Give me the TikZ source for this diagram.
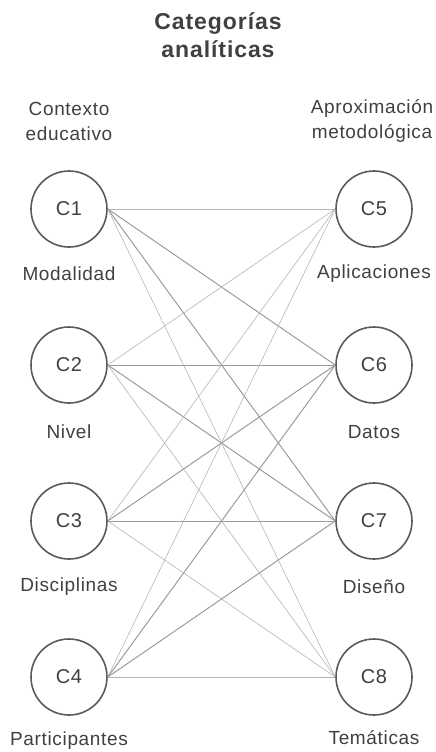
\documentclass[tikz,border=0pt]{standalone}
\usepackage{fontspec}
\setmainfont{Liberation Sans}
\newfontfamily\spaced[LetterSpace=3.5]{Liberation Sans}
\newfontfamily\spacedtitle[LetterSpace=4]{Liberation Sans}
\definecolor{circ}{HTML}{5A5A5A}
\definecolor{txt}{HTML}{404040}
\definecolor{lnk}{HTML}{B4B4B4}
\definecolor{lnkd}{HTML}{9C9C9C}
\begin{document}
\begin{tikzpicture}[x=1pt,y=-1pt,
  cat/.style={circle, draw=circ, line width=1.6pt, minimum size=76pt, inner sep=0pt, fill=white, text=txt, font=\spaced\fontsize{20}{24}\selectfont},
  lbl/.style={text=txt, font=\spaced\fontsize{19}{25}\selectfont, align=center, inner sep=0pt},
  ttl/.style={text=txt, font=\spacedtitle\fontsize{23}{28}\selectfont\bfseries, align=center, inner sep=0pt},
  thinlink/.style={draw=lnk, line width=0.6pt},
  thicklink/.style={draw=lnkd, line width=1pt}]
\useasboundingbox (0,0) rectangle (436,752);

\node[ttl] (title) at (218,35) {Categorías\\analíticas};
\node[lbl] (hl) at (69,121) {Contexto\\educativo};
\node[lbl] (hr) at (372,121) {Aproximación\\metodológica};

\node[cat] (c1) at (69,209) {C1};
\node[cat] (c2) at (69,365) {C2};
\node[cat] (c3) at (69,521) {C3};
\node[cat] (c4) at (69,677) {C4};
\node[cat] (c5) at (374,209) {C5};
\node[cat] (c6) at (374,365) {C6};
\node[cat] (c7) at (374,521) {C7};
\node[cat] (c8) at (374,677) {C8};

\node[lbl] (l1) at (69,274) {Modalidad};
\node[lbl] (l2) at (69,432) {Nivel};
\node[lbl] (l3) at (69,587) {Disciplinas};
\node[lbl] (l4) at (69,741) {Participantes};
\node[lbl] (l5) at (374,274) {Aplicaciones};
\node[lbl] (l6) at (374,432) {Datos};
\node[lbl] (l7) at (374,587) {Diseño};
\node[lbl] (l8) at (374,738) {Temáticas};

\path[thinlink] (c1.east) -- (c5.west);
\path[thicklink] (c1.east) -- (c6.west);
\path[thicklink] (c1.east) -- (c7.west);
\path[thinlink] (c1.east) -- (c8.west);
\path[thinlink] (c2.east) -- (c5.west);
\path[thicklink] (c2.east) -- (c6.west);
\path[thicklink] (c2.east) -- (c7.west);
\path[thinlink] (c2.east) -- (c8.west);
\path[thinlink] (c3.east) -- (c5.west);
\path[thicklink] (c3.east) -- (c6.west);
\path[thicklink] (c3.east) -- (c7.west);
\path[thinlink] (c3.east) -- (c8.west);
\path[thinlink] (c4.east) -- (c5.west);
\path[thicklink] (c4.east) -- (c6.west);
\path[thicklink] (c4.east) -- (c7.west);
\path[thinlink] (c4.east) -- (c8.west);
\end{tikzpicture}
\end{document}
